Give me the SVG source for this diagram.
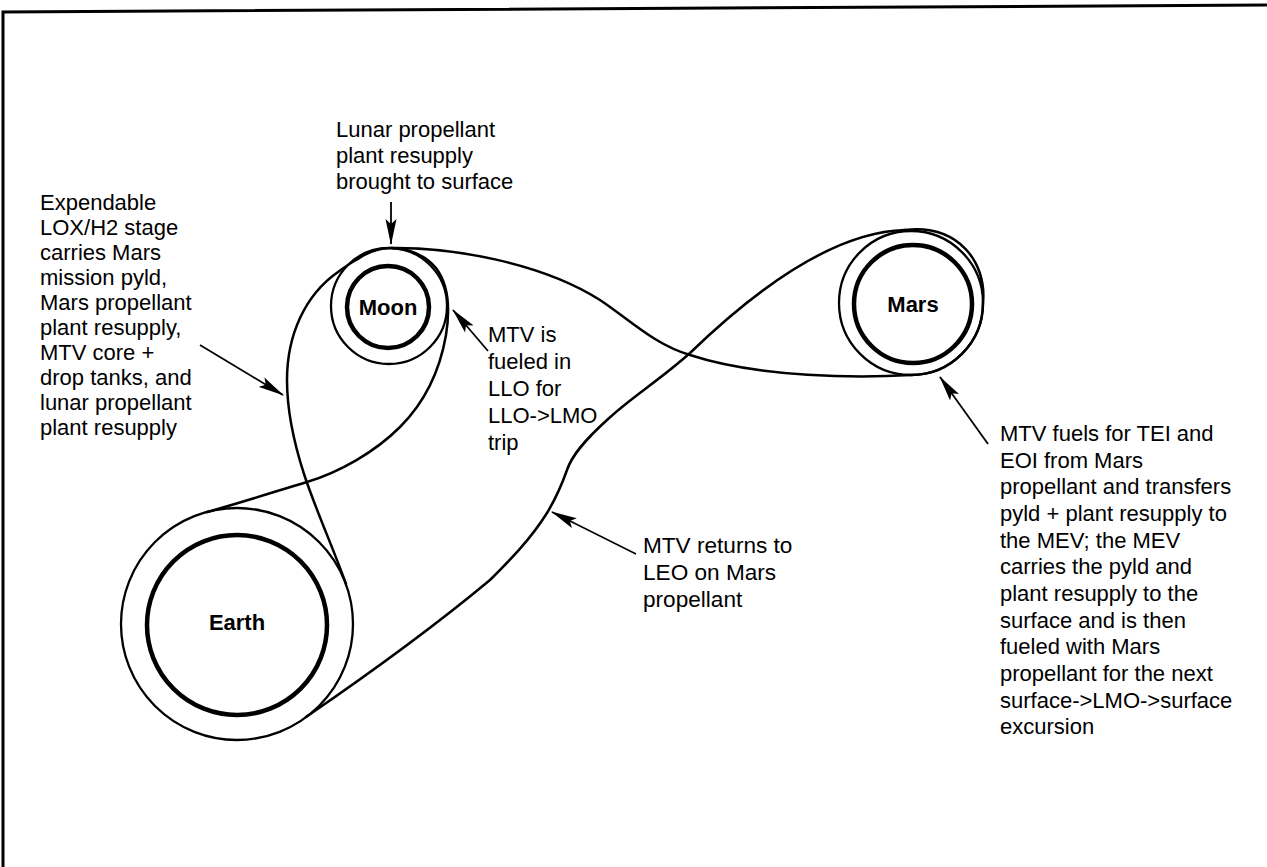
<svg xmlns="http://www.w3.org/2000/svg" width="1267" height="867" viewBox="0 0 1267 867">
  <defs>
    <marker id="head" viewBox="0 0 26 12" refX="25" refY="6" markerWidth="26" markerHeight="12" markerUnits="userSpaceOnUse" orient="auto">
      <path d="M0,0.5 L26,6 L0,11.5 L5,6 Z" fill="#000"/>
    </marker>
    <style>
      .txt { font-family: "Liberation Sans", Arial, sans-serif; font-size: 22px; fill: #000; }
      .body { font-family: "Liberation Sans", Arial, sans-serif; font-size: 22px; font-weight: bold; fill: #000; text-anchor: middle; dominant-baseline: central; }
      .planet { fill: none; stroke: #000; stroke-width: 4.5; }
      .orbit { fill: none; stroke: #000; stroke-width: 2.3; }
      .traj { fill: none; stroke: #000; stroke-width: 2.5; stroke-linejoin: round; stroke-linecap: round; }
      .lead { fill: none; stroke: #000; stroke-width: 1.8; marker-end: url(#head); }
    </style>
  </defs>
  <rect width="1267" height="867" fill="#fff"/>

  <!-- frame -->
  <path d="M3,867 L3,12 L1267,5" fill="none" stroke="#000" stroke-width="3"/>

  <!-- trajectories and callout arrows -->
  <g id="connectors">
    <!-- LEO out to the Moon, over LLO, then across to Mars and round LMO -->
    <path class="traj" d="M346,584 C334,550 315,508 304,474 C293,440 287,410 287,380 C287,335 305,295 338,272 C346,266 352,262 358,259 A58,58 0 0 1 390,248 C450,247 540,262 600,300 C630,320 655,345 690,355 C760,378 860,378 911,375 A72,72 0 0 0 983,303 C987,262 958,224 905,230"/>
    <!-- Mars back down to LEO -->
    <path class="traj" d="M905,230 C830,232 750,295 690,353 C660,380 630,398 607,420 C585,440 572,455 567,470 C560,490 553,503 547,513 C530,540 510,560 490,580 C430,630 360,680 306,717"/>
    <!-- LEO up to the far side of LLO -->
    <path class="traj" d="M207,512 C240,503 280,490 307,482 C340,472 375,452 400,427 C425,402 440,370 446,335 C450,310 449,285 436,268 C425,255 410,249 392,248"/>

    <line class="lead" x1="200" y1="345" x2="283" y2="395"/>
    <line class="lead" x1="391" y1="202" x2="391" y2="244"/>
    <line class="lead" x1="488" y1="351" x2="453" y2="310"/>
    <line class="lead" x1="636" y1="554" x2="552" y2="512"/>
    <line class="lead" x1="988" y1="444" x2="940" y2="377"/>
  </g>

  <g id="earth">
    <circle class="orbit" cx="237" cy="624" r="116"/>
    <circle class="planet" cx="237" cy="625" r="90"/>
    <text class="body" x="237" y="622">Earth</text>
  </g>

  <g id="moon">
    <circle class="orbit" cx="389" cy="306" r="58"/>
    <circle class="planet" cx="388" cy="307" r="41"/>
    <text class="body" x="388" y="307">Moon</text>
  </g>

  <g id="mars">
    <circle class="orbit" cx="911" cy="303" r="72"/>
    <circle class="planet" cx="913" cy="304" r="59"/>
    <text class="body" x="913" y="304">Mars</text>
  </g>

  <g id="note-expendable">
    <text class="txt" x="40" y="210">Expendable</text>
    <text class="txt" x="40" y="235">LOX/H2 stage</text>
    <text class="txt" x="40" y="260">carries Mars</text>
    <text class="txt" x="40" y="285">mission pyld,</text>
    <text class="txt" x="40" y="310">Mars propellant</text>
    <text class="txt" x="40" y="335">plant resupply,</text>
    <text class="txt" x="40" y="360">MTV core +</text>
    <text class="txt" x="40" y="385">drop tanks, and</text>
    <text class="txt" x="40" y="410">lunar propellant</text>
    <text class="txt" x="40" y="435">plant resupply</text>
  </g>

  <g id="note-lunar">
    <text class="txt" x="336" y="137">Lunar propellant</text>
    <text class="txt" x="336" y="163">plant resupply</text>
    <text class="txt" x="336" y="189">brought to surface</text>
  </g>

  <g id="note-llo">
    <text class="txt" x="488" y="342">MTV is</text>
    <text class="txt" x="488" y="369">fueled in</text>
    <text class="txt" x="488" y="396">LLO for</text>
    <text class="txt" x="488" y="423">LLO-&gt;LMO</text>
    <text class="txt" x="488" y="450">trip</text>
  </g>

  <g id="note-return">
    <text class="txt" x="643" y="553" style="font-size:22.6px">MTV returns to</text>
    <text class="txt" x="643" y="580" style="font-size:22.6px">LEO on Mars</text>
    <text class="txt" x="643" y="607" style="font-size:22.6px">propellant</text>
  </g>

  <g id="note-mars">
    <text class="txt" x="1000" y="441">MTV fuels for TEI and</text>
    <text class="txt" x="1000" y="468">EOI from Mars</text>
    <text class="txt" x="1000" y="494">propellant and transfers</text>
    <text class="txt" x="1000" y="521">pyld + plant resupply to</text>
    <text class="txt" x="1000" y="548">the MEV; the MEV</text>
    <text class="txt" x="1000" y="574">carries the pyld and</text>
    <text class="txt" x="1000" y="601">plant resupply to the</text>
    <text class="txt" x="1000" y="628">surface and is then</text>
    <text class="txt" x="1000" y="654">fueled with Mars</text>
    <text class="txt" x="1000" y="681">propellant for the next</text>
    <text class="txt" x="1000" y="708">surface-&gt;LMO-&gt;surface</text>
    <text class="txt" x="1000" y="734">excursion</text>
  </g>
</svg>
